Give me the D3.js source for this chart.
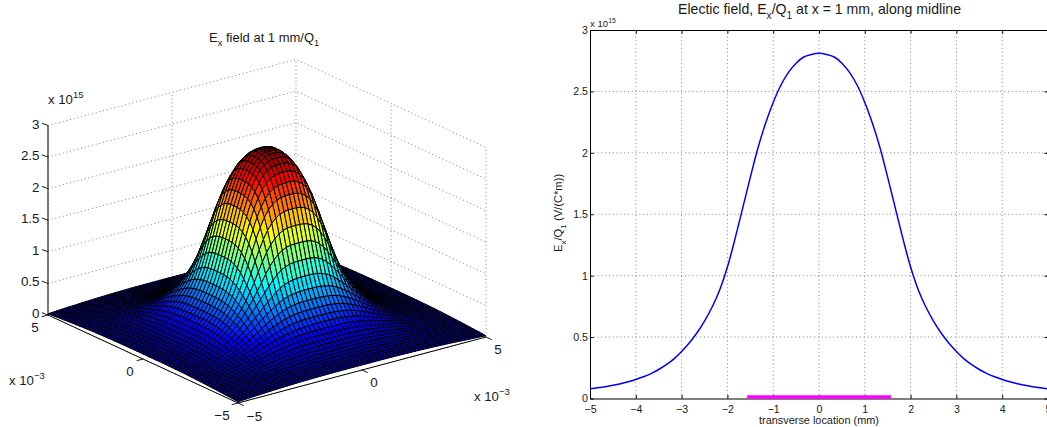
<!DOCTYPE html>
<html><head><meta charset="utf-8">
<script src="https://cdn.jsdelivr.net/npm/d3@7"></script>
<style>
html,body{margin:0;padding:0;background:#fff;overflow:hidden}
svg{display:block}
text{font-family:"Liberation Sans",Arial,sans-serif;fill:#1a1a1a}
</style></head><body>
<svg id="c" width="1047" height="427"></svg>
<script>
// Transverse positions (mm) of the samples of the midline curve
const positionsMm = d3.range(61).map(i => -5 + i / 6);
// Midline field E_x/Q_1 in units of 1e15
const midlineField = [
 .079,.087,.096,.107,.120,.136,.155,.177,.203,.236,.275,.323,.383,.452,.533,.630,.745,.885,1.07,1.30,1.55,1.80,2.04,2.24,2.41,2.55,2.655,2.73,2.78,2.80,
 2.81,
 2.80,2.78,2.73,2.655,2.55,2.41,2.24,2.04,1.80,1.55,1.30,1.07,.885,.745,.630,.533,.452,.383,.323,.275,.236,.203,.177,.155,.136,.120,.107,.096,.087,.079];
// Skirt of the surface between the edge midpoints and the corners
const skirtRadius = [5, 5.4, 5.8, 6.3];
const skirtField = [.079, .058, .04, .02];
const contourPower = [3];
const chargeBar = [-1.57, 1.57];
const xTicks = [-5,-4,-3,-2,-1,0,1,2,3,4,5];
const yTicks = [0,.5,1,1.5,2,2.5,3];
const surfTicks = [-5,0,5];
const jetStops = ["#00008f","#0000ff","#00ffff","#ffff00","#ff0000","#800000"];
const jetAt = [0,.125,.375,.625,.875,1];

const svg = d3.select("#c");
const fmt = v => String(v).replace("-", "\u2212");

function rich(g, x, y, parts, size, anchor, rotate) {
  const t = g.append("text").attr("x", x).attr("y", y).attr("font-size", size)
    .attr("text-anchor", anchor || "start");
  if (rotate) t.attr("transform", `rotate(${rotate} ${x} ${y})`);
  let off = 0;
  parts.forEach(p => {
    const shift = p.sub ? size * .32 : p.sup ? -size * .42 : 0;
    t.append("tspan").attr("dy", shift - off).attr("font-size", (p.sub || p.sup) ? size * .72 : size).text(p.t);
    off = shift;
  });
  return t;
}

/* ---------- left: 3D surface ---------- */
const gL = svg.append("g");
const origin = {x: 238, y: 403};
const xPx = d3.scaleLinear([-5,5],[0,248]), xPy = d3.scaleLinear([-5,5],[0,-66]);
const yPx = d3.scaleLinear([-5,5],[0,-190]), yPy = d3.scaleLinear([-5,5],[0,-88]);
const zPy = d3.scaleLinear([0,3],[0,-189.5]);
const proj = (x,y,z) => [origin.x + xPx(x) + yPx(y), origin.y + xPy(x) + yPy(y) + zPy(z)];
const peak = d3.max(midlineField);
const jet = d3.scaleLinear(jetAt.map(t => t * peak), jetStops).clamp(true);

const gridStyle = s => s.attr("fill","none").attr("stroke","#808080").attr("stroke-width",1).attr("stroke-dasharray","1 2.8");
const seg = d3.line();
const wallLines = [];
yTicks.forEach(z => wallLines.push([proj(-5,5,z),proj(5,5,z),proj(5,-5,z)]));
surfTicks.forEach(x => wallLines.push([proj(x,5,0),proj(x,5,3)]));
surfTicks.forEach(y => { if (y<5) wallLines.push([proj(5,y,0),proj(5,y,3)]); });
surfTicks.forEach(x => wallLines.push([proj(x,-5,0),proj(x,5,0)]));
surfTicks.forEach(y => wallLines.push([proj(-5,y,0),proj(5,y,0)]));
gL.selectAll("path.wall").data(wallLines).join("path").attr("class","wall").attr("d",seg).call(gridStyle);

const axisLines = [[proj(-5,5,3),proj(-5,5,0)],[proj(-5,5,0),proj(-5,-5,0)],[proj(-5,-5,0),proj(5,-5,0)]];
gL.selectAll("path.ax").data(axisLines).join("path").attr("class","ax").attr("d",seg)
  .attr("stroke","#000").attr("stroke-width",1).attr("fill","none");
const tickLines = [];
yTicks.forEach(z => { const p = proj(-5,5,z); tickLines.push([p,[p[0]-6,p[1]-2.3]]); });
surfTicks.forEach(y => { const p = proj(-5,y,0); tickLines.push([p,[p[0]-6.3,p[1]+1.7]]); });
surfTicks.forEach(x => { const p = proj(x,-5,0); tickLines.push([p,[p[0]+5.8,p[1]+2.7]]); });
gL.selectAll("path.tk").data(tickLines).join("path").attr("class","tk").attr("d",seg)
  .attr("stroke","#000").attr("stroke-width",.9).attr("fill","none");

// Surface: the read midline profile swept around the centre, plus the read skirt
const half = positionsMm.slice(30);
const sweep = d3.scaleLinear(
  half.concat(skirtRadius.slice(1)),
  midlineField.slice(30).concat(skirtField.slice(1))).clamp(true);
const zAt = (i,j) => sweep(Math.pow(
  Math.pow(Math.abs(positionsMm[i]),contourPower[0]) + Math.pow(Math.abs(positionsMm[j]),contourPower[0]),
  1/contourPower[0]));
const faces = [];
for (let i = 59; i >= 0; i--) for (let j = 59; j >= 0; j--) faces.push({i,j});
gL.selectAll("path.f").data(faces).join("path").attr("class","f")
  .attr("d", ({i,j}) => seg([[i,j],[i+1,j],[i+1,j+1],[i,j+1]].map(([a,b]) =>
      proj(positionsMm[a],positionsMm[b],zAt(a,b)))) + "Z")
  .attr("fill", ({i,j}) => jet((zAt(i,j)+zAt(i+1,j)+zAt(i+1,j+1)+zAt(i,j+1))/4))
  .attr("stroke","#000").attr("stroke-width",1).attr("stroke-linejoin","round");

rich(gL, 209, 42, [{t:"E"},{t:"x",sub:1},{t:" field at 1 mm/Q"},{t:"1",sub:1}], 13);
yTicks.forEach(z => gL.append("text").attr("x",39.5).attr("y",proj(-5,5,z)[1]+3).attr("text-anchor","end").attr("font-size",13.4).text(z));
rich(gL, 48, 104, [{t:"x 10"},{t:"15",sup:1}], 13.2);
gL.append("text").attr("x",35).attr("y",332).attr("text-anchor","middle").attr("font-size",13.4).text(fmt(5));
gL.append("text").attr("x",130).attr("y",376).attr("text-anchor","middle").attr("font-size",13.4).text(fmt(0));
gL.append("text").attr("x",222).attr("y",420).attr("text-anchor","middle").attr("font-size",13.4).text(fmt(-5));
gL.append("text").attr("x",254.5).attr("y",421).attr("text-anchor","middle").attr("font-size",13.4).text(fmt(-5));
gL.append("text").attr("x",374).attr("y",387).attr("text-anchor","middle").attr("font-size",13.4).text(fmt(0));
gL.append("text").attr("x",498).attr("y",354).attr("text-anchor","middle").attr("font-size",13.4).text(fmt(5));
rich(gL, 9, 385, [{t:"x 10"},{t:"\u22123",sup:1}], 13.2);
rich(gL, 474, 401, [{t:"x 10"},{t:"\u22123",sup:1}], 13.2);

/* ---------- right: midline curve ---------- */
const gR = svg.append("g");
const x = d3.scaleLinear([-5,5],[590,1048]);
const y = d3.scaleLinear([0,3],[398.5,30]);

gR.append("g").selectAll("line").data(xTicks.slice(1,-1)).join("line")
  .attr("x1",d=>x(d)).attr("x2",d=>x(d)).attr("y1",y(0)).attr("y2",y(3)).call(gridStyle);
gR.append("g").selectAll("line").data(yTicks.slice(1,-1)).join("line")
  .attr("x1",x(-5)).attr("x2",x(5)).attr("y1",d=>y(d)).attr("y2",d=>y(d)).call(gridStyle);

const styleAxis = g => { g.selectAll("path,line").attr("stroke","#000").attr("stroke-width",1);
  g.selectAll("text").attr("font-family",'"Liberation Sans",Arial,sans-serif').attr("fill","#1a1a1a").attr("font-size",10.6); };
gR.append("g").attr("transform",`translate(0,${y(0)})`)
  .call(d3.axisBottom(x).tickValues(xTicks).tickFormat(fmt).tickSizeInner(-3.6).tickSizeOuter(0).tickPadding(7)).call(styleAxis);
gR.append("g").attr("transform",`translate(0,${y(3)})`)
  .call(d3.axisTop(x).tickValues(xTicks).tickFormat("").tickSizeInner(-3.6).tickSizeOuter(0)).call(styleAxis);
gR.append("g").attr("transform",`translate(${x(-5)},0)`)
  .call(d3.axisLeft(y).tickValues(yTicks).tickFormat(d=>d).tickSizeInner(-3.6).tickSizeOuter(0).tickPadding(2)).call(styleAxis);
gR.append("g").attr("transform",`translate(${x(5)},0)`)
  .call(d3.axisRight(y).tickValues(yTicks).tickFormat("").tickSizeInner(-3.6).tickSizeOuter(0)).call(styleAxis);

gR.append("path").datum(positionsMm)
  .attr("d", d3.line().x(d=>x(d)).y((d,i)=>y(midlineField[i])).curve(d3.curveCatmullRom))
  .attr("fill","none").attr("stroke","#0000ff").attr("stroke-width",1.5);
gR.append("line").attr("x1",x(chargeBar[0])).attr("x2",x(chargeBar[1]))
  .attr("y1",y(.012)).attr("y2",y(.012)).attr("stroke","#ff00ff").attr("stroke-width",3.4);

rich(gR, 819.5, 14, [{t:"Electic field, E"},{t:"x",sub:1},{t:"/Q"},{t:"1",sub:1},{t:" at x = 1 mm, along midline"}], 14.1, "middle");
rich(gR, 590, 27, [{t:"x 10"},{t:"15",sup:1}], 9.6);
gR.append("text").attr("x",819).attr("y",423.5).attr("text-anchor","middle").attr("font-size",10.9).text("transverse location (mm)");
rich(gR, 562, 252, [{t:"E"},{t:"x",sub:1},{t:"/Q"},{t:"1",sub:1},{t:" (V/(C*m))"}], 11.2, "start", -90);
</script></body></html>
